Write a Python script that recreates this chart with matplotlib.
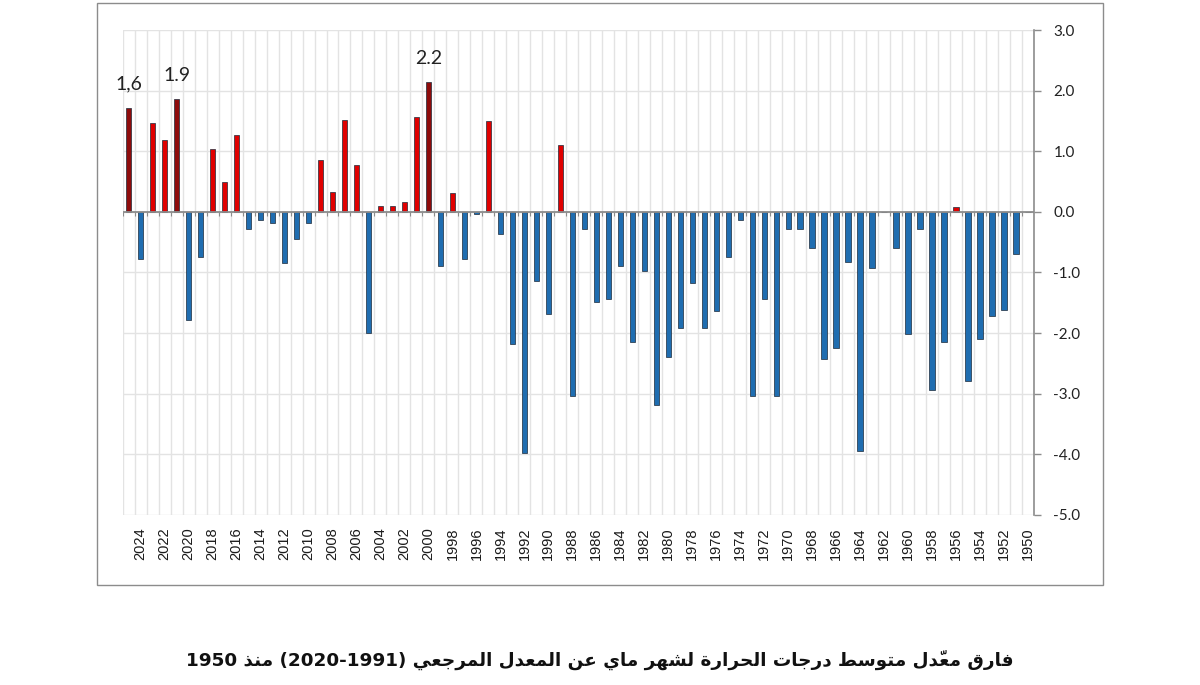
# ---------------------------------------- Import Libraries ---------------------------------------- #
import numpy as np
import matplotlib
matplotlib.use("Agg")
import matplotlib.pyplot as plt
from matplotlib.patches import Rectangle


# ---------- Data ---------- #
years = np.arange(2025, 1949, -1)          # 2025 ... 1950, one bar each
anomaly = [
    1.72, -0.78, 1.47, 1.19, 1.86, -1.79, -0.74, 1.04, 0.49, 1.26,      # 2025-2016
    -0.29, -0.14, -0.19, -0.84, -0.44, -0.19, 0.86, 0.32, 1.51, 0.77,   # 2015-2006
    -1.99, 0.10, 0.09, 0.16, 1.57, 2.14, -0.90, 0.31, -0.77, -0.04,     # 2005-1996
    1.50, -0.37, -2.18, -3.98, -1.14, -1.69, 1.10, -3.03, -0.29, -1.48, # 1995-1986
    -1.44, -0.90, -2.14, -0.98, -3.19, -2.39, -1.92, -1.17, -1.92, -1.63,  # 1985-1976
    -0.74, -0.13, -3.03, -1.44, -3.03, -0.29, -0.29, -0.59, -2.42, -2.24,  # 1975-1966
    -0.82, -3.95, -0.92, 0.00, -0.59, -2.02, -0.29, -2.94, -2.15, 0.08,    # 1965-1956
    -2.79, -2.09, -1.71, -1.62, -0.69, 0.00,                               # 1955-1950
]
highlight_years = [2025, 2021, 2000]
note_years = [2025, 2021, 2000]
note_texts = ["1,6", "1.9", "2.2"]
y_ticks = [3, 2, 1, 0, -1, -2, -3, -4, -5]
title = "فارق معدّل متوسط درجات الحرارة لشهر ماي عن المعدل المرجعي (2020-1991) منذ 1950"

assert len(anomaly) == len(years)


# ---------- Arabic shaping (matplotlib has no complex text layout) ---------- #
# letter -> (isolated, final, initial, medial); None = does not join to the next letter
FORMS = {
    'ء': (0xFE80, None, None, None), 'آ': (0xFE81, 0xFE82, None, None),
    'أ': (0xFE83, 0xFE84, None, None), 'ؤ': (0xFE85, 0xFE86, None, None),
    'إ': (0xFE87, 0xFE88, None, None), 'ئ': (0xFE89, 0xFE8A, 0xFE8B, 0xFE8C),
    'ا': (0xFE8D, 0xFE8E, None, None), 'ب': (0xFE8F, 0xFE90, 0xFE91, 0xFE92),
    'ة': (0xFE93, 0xFE94, None, None), 'ت': (0xFE95, 0xFE96, 0xFE97, 0xFE98),
    'ث': (0xFE99, 0xFE9A, 0xFE9B, 0xFE9C), 'ج': (0xFE9D, 0xFE9E, 0xFE9F, 0xFEA0),
    'ح': (0xFEA1, 0xFEA2, 0xFEA3, 0xFEA4), 'خ': (0xFEA5, 0xFEA6, 0xFEA7, 0xFEA8),
    'د': (0xFEA9, 0xFEAA, None, None), 'ذ': (0xFEAB, 0xFEAC, None, None),
    'ر': (0xFEAD, 0xFEAE, None, None), 'ز': (0xFEAF, 0xFEB0, None, None),
    'س': (0xFEB1, 0xFEB2, 0xFEB3, 0xFEB4), 'ش': (0xFEB5, 0xFEB6, 0xFEB7, 0xFEB8),
    'ص': (0xFEB9, 0xFEBA, 0xFEBB, 0xFEBC), 'ض': (0xFEBD, 0xFEBE, 0xFEBF, 0xFEC0),
    'ط': (0xFEC1, 0xFEC2, 0xFEC3, 0xFEC4), 'ظ': (0xFEC5, 0xFEC6, 0xFEC7, 0xFEC8),
    'ع': (0xFEC9, 0xFECA, 0xFECB, 0xFECC), 'غ': (0xFECD, 0xFECE, 0xFECF, 0xFED0),
    'ف': (0xFED1, 0xFED2, 0xFED3, 0xFED4), 'ق': (0xFED5, 0xFED6, 0xFED7, 0xFED8),
    'ك': (0xFED9, 0xFEDA, 0xFEDB, 0xFEDC), 'ل': (0xFEDD, 0xFEDE, 0xFEDF, 0xFEE0),
    'م': (0xFEE1, 0xFEE2, 0xFEE3, 0xFEE4), 'ن': (0xFEE5, 0xFEE6, 0xFEE7, 0xFEE8),
    'ه': (0xFEE9, 0xFEEA, 0xFEEB, 0xFEEC), 'و': (0xFEED, 0xFEEE, None, None),
    'ى': (0xFEEF, 0xFEF0, None, None), 'ي': (0xFEF1, 0xFEF2, 0xFEF3, 0xFEF4),
}


def is_mark(c):
    return 0x064B <= ord(c) <= 0x065F or c == '\u0670'


def shape_word(w):
    if not any(c in FORMS for c in w):
        return w
    base = [i for i, c in enumerate(w) if not is_mark(c)]
    clusters = []
    for k, i in enumerate(base):
        c = w[i]
        prev = w[base[k - 1]] if k > 0 else None
        nxt = w[base[k + 1]] if k + 1 < len(base) else None
        end = base[k + 1] if k + 1 < len(base) else len(w)
        f = FORMS.get(c)
        if f is None:
            g = c
        else:
            jp = prev in FORMS and FORMS[prev][2] is not None
            jn = nxt in FORMS and f[2] is not None
            if jp and jn:
                g = chr(f[3])
            elif jp:
                g = chr(f[1])
            elif jn:
                g = chr(f[2])
            else:
                g = chr(f[0])
        clusters.append(g + w[i + 1:end])
    return ''.join(reversed(clusters))


def visual_rtl(s):
    return ' '.join(shape_word(t) for t in reversed(s.split(' ')))


# ---------- Plot ---------- #
plt.rcParams['axes.unicode_minus'] = False

fig = plt.figure(figsize=(12, 6.85), dpi=100)
ax = fig.add_axes([0.1022, 0.2482, 0.7595, 0.708])

x = np.arange(len(years))
colors = []
for yr, v in zip(years, anomaly):
    if yr in highlight_years:
        colors.append('#8e0b0b')
    elif v >= 0:
        colors.append('#e00000')
    else:
        colors.append('#1f6db0')

ax.bar(x, anomaly, width=0.45, color=colors, edgecolor='#1c2a3a', linewidth=0.5, zorder=3)

# value notes above a few bars
for yr, txt in zip(note_years, note_texts):
    i = int(np.where(years == yr)[0][0])
    ax.annotate(txt, (x[i], anomaly[i]), xytext=(0, 17), textcoords='offset points',
                ha='center', va='center', fontsize=14, family='Lato', color='#222222')

# limits and grid
ax.set_xlim(-0.5, len(years) - 0.5)
ax.set_ylim(-5, 3)
ax.set_yticks(y_ticks)
ax.set_yticklabels([f"{v:.1f}" for v in y_ticks], family='Lato', fontsize=11, color='#222222')
ax.yaxis.tick_right()
ax.tick_params(axis='y', direction='out', length=5, width=1, color='#8c8c8c', pad=9)

ax.set_xticks(x[1::2])
ax.set_xticklabels([str(y) for y in years[1::2]], rotation=90, family='Liberation Sans',
                   fontsize=10.5, color='#1a1a1a')
ax.tick_params(axis='x', length=0, pad=9)
ax.set_xticks(np.arange(len(years) + 1) - 0.5, minor=True)
ax.tick_params(axis='x', which='minor', length=0)

ax.grid(True, axis='x', which='minor', color='#e3e3e3', linewidth=1, zorder=0)
ax.grid(True, axis='y', which='major', color='#e3e3e3', linewidth=1, zorder=0)

for side in ['top', 'left', 'bottom']:
    ax.spines[side].set_visible(False)
ax.spines['right'].set_color('#8c8c8c')
ax.spines['right'].set_linewidth(1.2)

# zero line with little tick marks at category boundaries
ax.axhline(0, color='#8c8c8c', linewidth=1.3, zorder=4)
ax.vlines(np.arange(len(years) + 1) - 0.5, -0.06, 0, color='#8c8c8c', linewidth=0.8, zorder=4)

# chart border
fig.add_artist(Rectangle((97 / 1200, 1 - 585 / 685), 1006 / 1200, 582 / 685,
                         transform=fig.transFigure, fill=False, edgecolor='#8c8c8c', linewidth=1))

# caption below the chart
fig.text(0.5, 1 - 660 / 685, visual_rtl(title), ha='center', va='center',
         fontsize=13.2, fontweight='bold', family='DejaVu Sans', color='#111111')

fig.savefig('out.png', dpi=100, facecolor='white')
